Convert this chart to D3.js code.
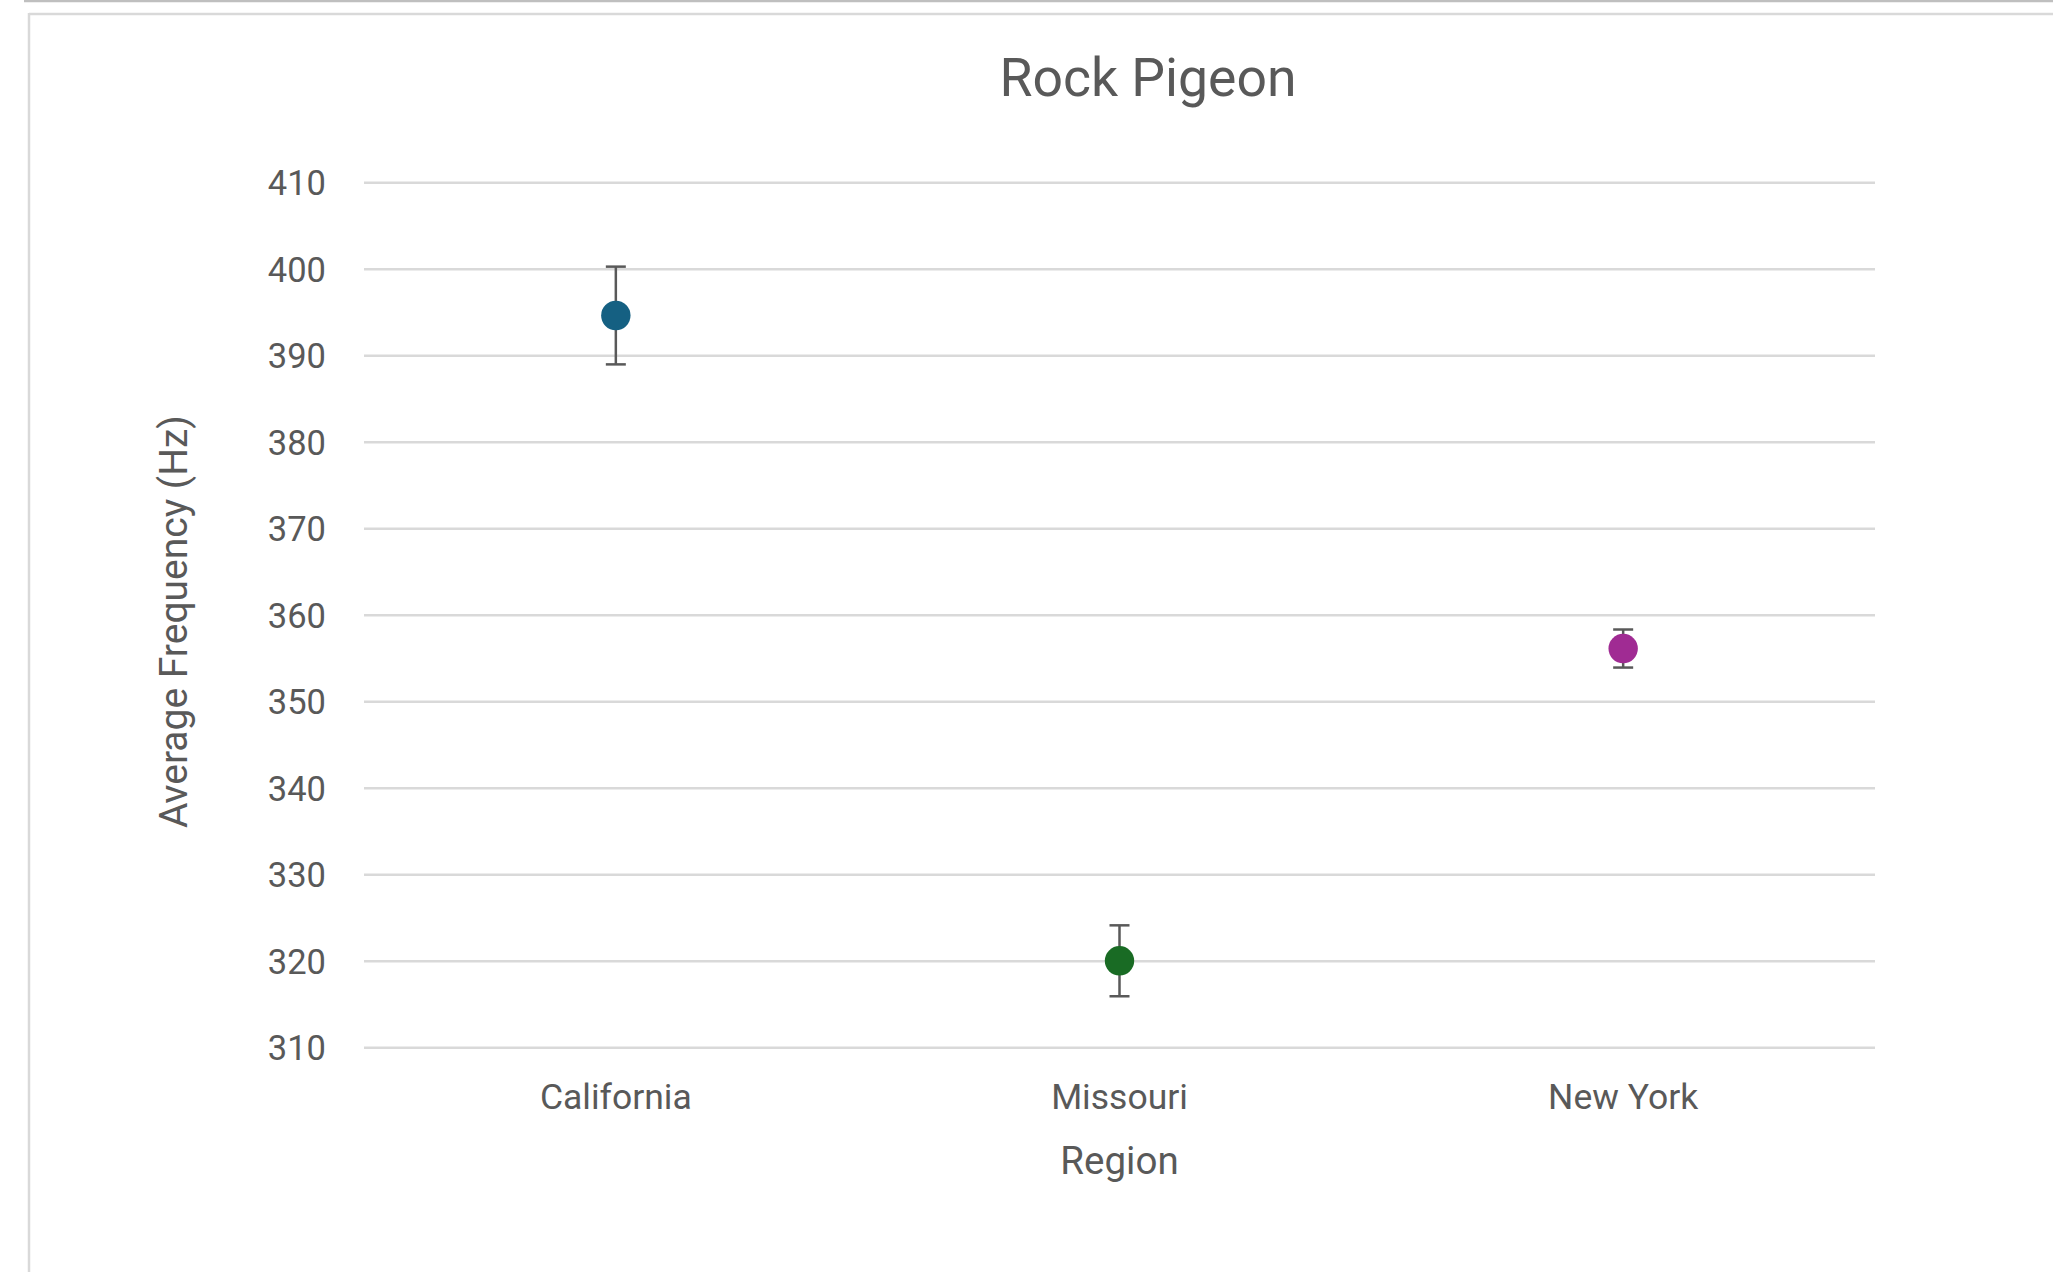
<!DOCTYPE html>
<html>
<head>
<meta charset="utf-8">
<script src="https://d3js.org/d3.v7.min.js"></script>
<style>
  body { margin: 0; background: white; }
  text { font-family: Roboto, "Open Sans", sans-serif; fill: #595959; }
</style>
</head>
<body>
<div id="chart"></div>
<script>
const regions = ["California", "Missouri", "New York"];
const means = [394.6, 320.0, 356.1];
const errors = [5.65, 4.1, 2.2];
const colors = ["#156082", "#196b24", "#a02b93"];
const yTicks = [310, 320, 330, 340, 350, 360, 370, 380, 390, 400, 410];

const w = 2053;
const h = 1272;
const plotLeft = 364, plotRight = 1875, plotTop = 182.3, plotBottom = 1047.3;

const svg = d3.select("#chart").append("svg")
    .attr("width", w)
    .attr("height", h);

// frame edges
svg.append("line").attr("x1", 24).attr("x2", w).attr("y1", 1).attr("y2", 1)
    .attr("stroke", "#bfbfbf").attr("stroke-width", 2.5);
svg.append("line").attr("x1", 29).attr("x2", w).attr("y1", 14).attr("y2", 14)
    .attr("stroke", "#d9d9d9").attr("stroke-width", 2.5);
svg.append("line").attr("x1", 29).attr("x2", 29).attr("y1", 13).attr("y2", h)
    .attr("stroke", "#d9d9d9").attr("stroke-width", 2.5);

const xScale = d3.scaleBand().domain(regions).range([plotLeft, plotRight]);
const yScale = d3.scaleLinear().domain([310, 410]).range([plotBottom, plotTop]);

// gridlines + y labels
const yAxis = d3.axisLeft(yScale)
    .tickValues(yTicks)
    .tickSize(-(plotRight - plotLeft))
    .tickPadding(38);

svg.append("g")
    .attr("transform", "translate(" + plotLeft + ",0)")
    .call(yAxis)
    .call(g => g.select(".domain").remove())
    .call(g => g.selectAll(".tick line").attr("stroke", "#d9d9d9").attr("stroke-width", 2.5))
    .call(g => g.selectAll(".tick text")
        .style("font-size", "34.5px")
        .attr("fill", "#595959")
        .attr("dy", "0.36em"));

// x labels
const xAxis = d3.axisBottom(xScale).tickSize(0).tickPadding(0);
svg.append("g")
    .attr("transform", "translate(0," + (plotBottom + 62) + ")")
    .call(xAxis)
    .call(g => g.select(".domain").remove())
    .call(g => g.selectAll(".tick text")
        .style("font-size", "35.5px")
        .attr("fill", "#595959")
        .attr("dy", "0"));

// error bars
const pts = regions.map((r, i) => ({ region: r, mean: means[i], err: errors[i], color: colors[i] }));
const eb = svg.append("g").attr("stroke", "#595959").attr("stroke-width", 2.5);
pts.forEach(d => {
    const cx = xScale(d.region) + xScale.bandwidth() / 2;
    eb.append("line").attr("x1", cx).attr("x2", cx)
        .attr("y1", yScale(d.mean + d.err)).attr("y2", yScale(d.mean - d.err));
    [d.mean + d.err, d.mean - d.err].forEach(v => {
        eb.append("line").attr("x1", cx - 10).attr("x2", cx + 10)
            .attr("y1", yScale(v)).attr("y2", yScale(v));
    });
});

svg.selectAll(".dot")
    .data(pts)
    .enter()
    .append("circle")
    .attr("class", "dot")
    .attr("cx", d => xScale(d.region) + xScale.bandwidth() / 2)
    .attr("cy", d => yScale(d.mean))
    .attr("r", 14.7)
    .attr("fill", d => d.color);

// titles
svg.append("text")
    .attr("x", 1148)
    .attr("y", 96)
    .attr("text-anchor", "middle")
    .style("font-size", "53.5px")
    .text("Rock Pigeon");

svg.append("text")
    .attr("x", (plotLeft + plotRight) / 2)
    .attr("y", 1174)
    .attr("text-anchor", "middle")
    .style("font-size", "38.5px")
    .text("Region");

svg.append("text")
    .attr("transform", "translate(187,621.5) rotate(-90)")
    .attr("text-anchor", "middle")
    .style("font-size", "39px")
    .text("Average Frequency (Hz)");
</script>
</body>
</html>
